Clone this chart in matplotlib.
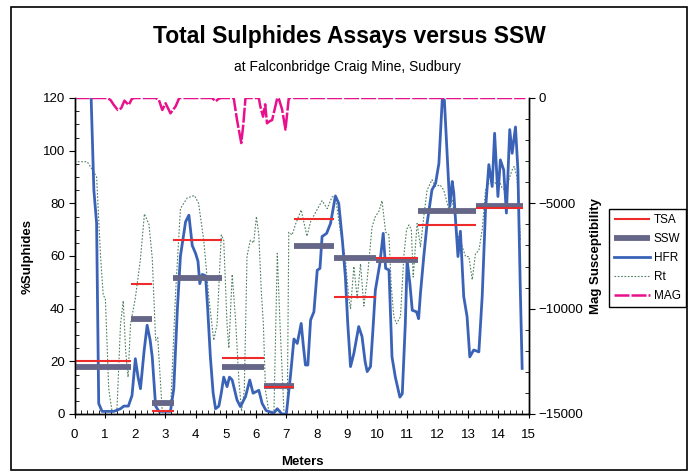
import numpy as np
import matplotlib
matplotlib.use('Agg')
import matplotlib.pyplot as plt
from matplotlib.ticker import MultipleLocator
from matplotlib.patches import Rectangle

plt.rcParams['font.family'] = ['Liberation Sans', 'DejaVu Sans']

# assay intervals (meters) with TSA and SSW values (%)
seg_start = [0.0, 1.86, 2.56, 3.27, 4.87, 6.25, 7.24, 8.56, 9.95, 11.35, 13.25]
seg_end = [1.87, 2.57, 3.28, 4.88, 6.26, 7.25, 8.57, 9.96, 11.36, 13.26, 14.82]
tsa = [20.0, 49.5, 1.0, 66.0, 21.4, 10.3, 74.0, 44.4, 59.4, 71.8, 78.2]
ssw = [17.8, 36.2, 4.2, 51.8, 17.8, 10.7, 63.9, 59.4, 58.4, 77.2, 79.0]

# HFR trace
hfr_x = [0.55, 0.64, 0.73, 0.80, 0.91, 1.10, 1.30, 1.52, 1.63, 1.78, 1.90, 2.01, 2.10, 2.18,
         2.30, 2.40, 2.50, 2.57, 2.68, 2.79, 3.17, 3.28, 3.40, 3.50, 3.67, 3.78, 3.89, 4.00,
         4.08, 4.14, 4.22, 4.33, 4.40, 4.49, 4.58, 4.66, 4.77, 4.85, 4.93, 5.04, 5.12, 5.21,
         5.37, 5.48, 5.65, 5.79, 5.90, 6.09, 6.20, 6.33, 6.58, 6.70, 6.85, 7.00, 7.14, 7.25,
         7.36, 7.49, 7.56, 7.63, 7.71, 7.80, 7.91, 8.02, 8.11, 8.18, 8.33, 8.46, 8.62, 8.73,
         8.85, 8.95, 9.03, 9.12, 9.23, 9.39, 9.50, 9.60, 9.67, 9.78, 9.86, 9.94, 10.09, 10.20,
         10.28, 10.39, 10.49, 10.60, 10.75, 10.83, 10.93, 10.99, 11.08, 11.16, 11.30, 11.37,
         11.43, 11.54, 11.65, 11.81, 11.93, 12.04, 12.15, 12.22, 12.31, 12.40, 12.48, 12.53,
         12.67, 12.75, 12.86, 12.97, 13.06, 13.19, 13.36, 13.47, 13.58, 13.69, 13.80, 13.88,
         13.99, 14.07, 14.18, 14.27, 14.38, 14.46, 14.57, 14.65, 14.73, 14.79]
hfr_y = [120, 85, 72.5, 4, 1, 1, 1, 2, 3, 3, 7, 21, 14, 9.6,
         24, 33.7, 28, 21.5, 3, 1, 1, 9.6, 40, 60, 73, 75.5, 64, 61,
         58, 49.5, 53, 52.5, 40, 21.5, 8, 2, 3, 8, 14, 10.4, 14, 12.9,
         5.3, 2.8, 6.6, 12.9, 7.9, 9, 4, 1.3, 0.3, 2, 0, 0, 15, 28.5,
         26.8, 34.4, 26, 18.6, 18.6, 35.7, 38.8, 54.6, 55.3, 67.4, 68.6, 72.4, 82.8, 80,
         66, 52, 34, 18, 23, 33.2, 29.4, 20, 16.1, 18, 32, 47, 57.2, 68.6,
         55.3, 54.7, 21.7, 14, 6.4, 7.7, 34.3, 58.4, 49.6, 39.4, 38.8, 36.2,
         45.8, 59.8, 72.4, 85.1, 87.6, 95.2, 119.3, 119.3, 99, 78.8, 88.3, 84,
         59.8, 69.4, 44.6, 37, 21.7, 24.3, 23.6, 44.6, 77.6, 94.7, 86.4, 106.6,
         82.6, 96.5, 92.7, 76.3, 108, 99, 109, 92.7, 47, 17.3]

# Rt trace
rt_x = [0.0, 0.42, 0.58, 0.73, 0.86, 0.95, 1.02, 1.13, 1.24, 1.40, 1.52, 1.61, 1.69, 1.77,
        1.85, 2.01, 2.18, 2.31, 2.46, 2.57, 2.68, 2.75, 2.90, 3.17, 3.34, 3.50, 3.72, 3.96,
        4.10, 4.27, 4.44, 4.60, 4.71, 4.85, 4.93, 5.04, 5.10, 5.21, 5.32, 5.43, 5.52, 5.61,
        5.70, 5.81, 5.92, 6.01, 6.09, 6.17, 6.24, 6.31, 6.42, 6.59, 6.70, 6.79, 6.92, 7.03,
        7.08, 7.19, 7.30, 7.49, 7.68, 7.80, 7.96, 8.18, 8.35, 8.51, 8.62, 8.79, 8.95, 9.06,
        9.12, 9.23, 9.34, 9.45, 9.56, 9.67, 9.83, 9.94, 10.06, 10.16, 10.28, 10.39, 10.46,
        10.55, 10.64, 10.77, 10.88, 10.97, 11.05, 11.13, 11.19, 11.32, 11.43, 11.54, 11.65,
        11.81, 11.93, 12.08, 12.20, 12.37, 12.48, 12.64, 12.81, 12.92, 13.03, 13.14, 13.25,
        13.36, 13.47, 13.58, 13.69, 13.80, 13.91, 14.02, 14.13, 14.24, 14.35, 14.46, 14.53,
        14.62, 14.73]
rt_y = [95.8, 95.8, 93, 90, 60, 45, 44, 9.6, 1, 1, 34, 43, 24, 14,
        34, 44, 59, 76, 72, 59, 28, 29, 1, 1, 46, 78, 82, 83,
        80, 66, 44, 28, 34, 68, 66, 34, 25, 53, 36, 13, 1, 9,
        60, 66, 65, 75, 68, 47, 34, 9, 1, 1, 61, 34, 1, 1,
        69, 68, 72, 77.5, 67.5, 73, 76.5, 81, 78, 82.5, 82.5, 69, 59, 44,
        40, 56, 44, 57, 41, 51, 71, 75, 77, 81, 69, 68, 49.6,
        37, 34.3, 37, 59.8, 70, 71.8, 70, 52, 72.4, 63.5, 75, 85,
        89, 86.4, 87, 85, 77.6, 81.4, 68.7, 63.6, 59.8, 59.8, 51, 61,
        62, 70, 85, 87.6, 89, 87.6, 89, 85.7, 85, 89, 92.7, 94,
        90, 66]

# MAG trace (right axis)
mag_x = [0.0, 1.08, 1.19, 1.30, 1.43, 1.54, 1.65, 1.79, 1.90, 2.00, 2.68, 2.79, 2.90, 3.01,
         3.17, 3.34, 3.46, 4.55, 4.66, 4.77, 4.85, 5.26, 5.37, 5.51, 5.57, 5.65, 6.09, 6.14,
         6.23, 6.30, 6.36, 6.45, 6.53, 6.70, 6.75, 6.86, 6.97, 7.08, 7.15, 14.9]
mag_y = [0, 0, -95, -332, -570, -490, -127, -332, -30, 0, 0, -95, -570, -250,
         -727, -400, 0, 0, -160, -30, 0, 0, -1045, -2140, -1360, 0, 0, -400,
         -885, -300, -1200, -1100, -1045, 0, -30, -550, -1500, 0, 0, 0]

fig = plt.figure(figsize=(6.94, 4.74), dpi=100)
fig.patches.append(Rectangle((11 / 694, 1 - 470 / 474), 676 / 694, 463 / 474,
                             transform=fig.transFigure, fill=False, edgecolor='black',
                             linewidth=1.2, zorder=0))

ax = fig.add_axes([74.5 / 694, 1 - 414 / 474, 454 / 694, 316 / 474])
ax2 = ax.twinx()

ax.plot(rt_x, rt_y, color='#4f7f5f', lw=0.8, linestyle=(0, (1.5, 1.5)), label='Rt', zorder=2)
ax.plot(hfr_x, hfr_y, color='#3a63b8', lw=2.0, label='HFR', zorder=3, solid_joinstyle='round')
ax.hlines(ssw, seg_start, seg_end, color='#666688', lw=4.2, label='SSW', zorder=4)
ax.hlines(tsa, seg_start, seg_end, color='#ee2a2a', lw=1.5, label='TSA', zorder=5)
ax2.plot(mag_x, mag_y, color='#e8108c', lw=1.8, dashes=(6, 0.8), label='MAG')

ax.set_xlim(0, 15)
ax.set_ylim(0, 120)
ax2.set_ylim(-15000, 0)

ax.xaxis.set_major_locator(MultipleLocator(1))
ax.xaxis.set_minor_locator(MultipleLocator(0.2))
ax.yaxis.set_major_locator(MultipleLocator(20))
ax.yaxis.set_minor_locator(MultipleLocator(5))
ax2.yaxis.set_major_locator(MultipleLocator(5000))
ax2.yaxis.set_minor_locator(MultipleLocator(1000))

ax.tick_params(axis='x', which='major', direction='inout', length=6, labelsize=9.5, pad=8)
ax.tick_params(axis='x', which='minor', direction='in', length=3)
ax.tick_params(axis='y', which='major', direction='out', length=4, labelsize=9.5, pad=3)
ax.tick_params(axis='y', which='minor', direction='in', length=3)
ax2.tick_params(axis='y', which='major', direction='out', length=4, labelsize=9.5, pad=3)
ax2.tick_params(axis='y', which='minor', direction='in', length=3)

for a in (ax, ax2):
    a.spines['top'].set_visible(False)
    for s in ('left', 'right', 'bottom'):
        a.spines[s].set_linewidth(1.0)

ax.set_xlabel('Meters', fontsize=9.5, fontweight='bold')
ax.set_ylabel('%Sulphides', fontsize=9.5, fontweight='bold')
ax2.set_ylabel('Mag Susceptibility', fontsize=9.5, fontweight='bold')
ax.xaxis.set_label_coords(0.501, -0.133)
ax.yaxis.set_label_coords(-0.091, 0.5)
ax2.yaxis.set_label_coords(1.135, 0.5)

fig.text(0.504, 1 - 43 / 474, 'Total Sulphides Assays versus SSW', ha='center',
         va='baseline', fontsize=16.5, fontweight='bold')
fig.text(0.5, 1 - 71 / 474, 'at Falconbridge Craig Mine, Sudbury', ha='center',
         va='baseline', fontsize=10)

h1, l1 = ax.get_legend_handles_labels()
h2, l2 = ax2.get_legend_handles_labels()
handles = dict(zip(l1 + l2, h1 + h2))
order = ['TSA', 'SSW', 'HFR', 'Rt', 'MAG']
leg = fig.legend([handles[k] for k in order], order, loc='upper left',
                 bbox_to_anchor=(609 / 694, 1 - 209 / 474), fontsize=8.5,
                 frameon=True, fancybox=False, framealpha=1, edgecolor='black',
                 handlelength=3.1, handletextpad=0.3, labelspacing=0.6,
                 borderpad=0.4, borderaxespad=0)
leg.get_frame().set_linewidth(1.0)

fig.savefig('out.png', dpi=100)
